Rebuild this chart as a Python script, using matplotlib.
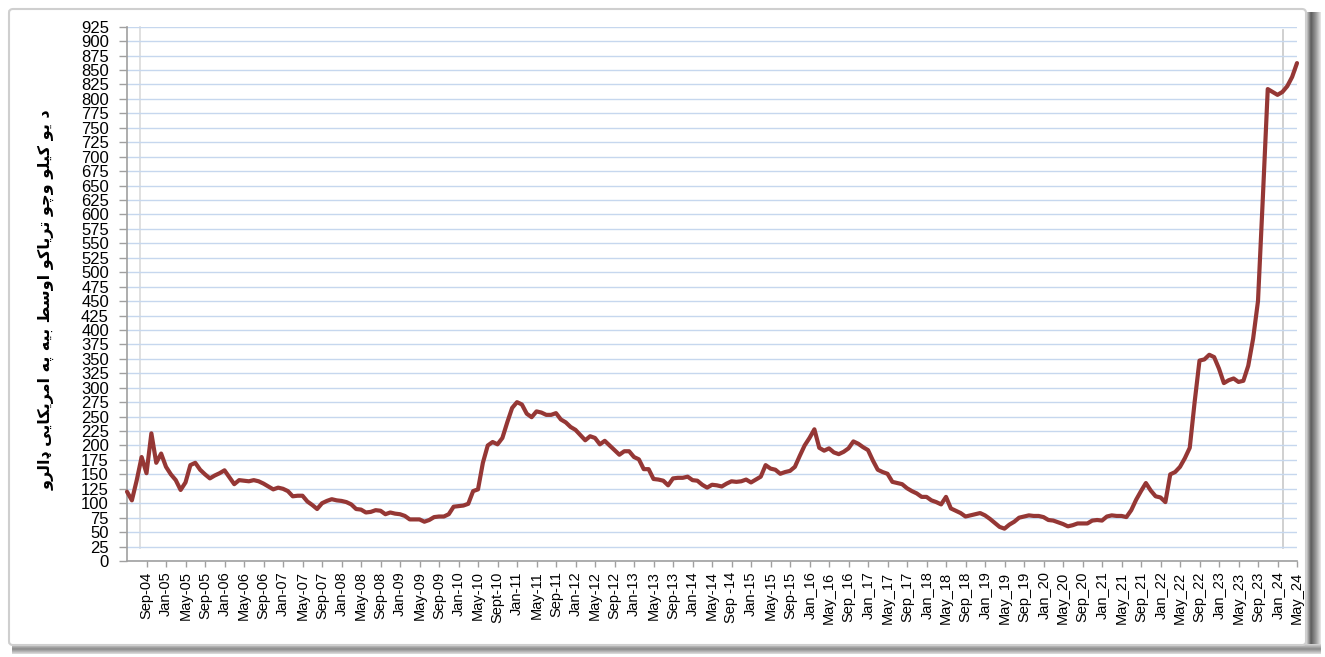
import numpy as np
import matplotlib.pyplot as plt
import matplotlib.colors as mcolors
from matplotlib.patches import FancyBboxPatch

# monthly price, May-2004 .. May-2024 (USD per kg of dry opium)
values = [
    120, 105, 140, 180, 152, 221, 170, 186, 163, 150, 140, 123,
    136, 166, 170, 158, 150, 143, 148, 152, 157, 145, 133, 140,
    139, 138, 140, 138, 134, 129, 124, 127, 125, 121, 112, 113,
    113, 103, 97, 90, 100, 104, 107, 105, 104, 102, 98, 90,
    89, 84, 85, 88, 87, 81, 84, 82, 81, 78, 72, 72,
    72, 68, 71, 76, 77, 77, 81, 94, 95, 96, 99, 121,
    124, 170, 200, 206, 202, 213, 240, 265, 275, 271, 255, 249,
    259, 257, 253, 253, 256, 245, 240, 232, 227, 218, 209, 216,
    213, 202, 208, 200, 192, 184, 190, 190, 180, 176, 159, 159,
    142, 141, 139, 131, 143, 144, 144, 146, 140, 139, 132, 127,
    132, 131, 129, 134, 138, 137, 138, 141, 136, 141, 146, 166,
    160, 158, 151, 154, 156, 163, 182, 200, 213, 228, 196, 191,
    195, 188, 185, 189, 195, 207, 203, 197, 192, 174, 158, 154,
    151, 137, 135, 133, 126, 121, 117, 111, 111, 105, 102, 98,
    111, 91, 87, 83, 77, 79, 81, 83, 79, 73, 66, 59,
    56, 63, 68, 75, 77, 79, 78, 78, 76, 71, 70, 67,
    64, 60, 62, 65, 65, 65, 70, 71, 70, 77, 79, 78,
    78, 76, 88, 106, 121, 135, 122, 112, 110, 102, 150, 154,
    163, 178, 196, 275, 347, 349, 357, 353, 333, 308, 313, 316,
    310, 312, 338, 385, 450, 630, 817, 812, 807, 812, 822, 838,
    862,
]

tick_labels = [
    "Sep-04", "Jan-05", "May-05", "Sep-05", "Jan-06", "May-06", "Sep-06",
    "Jan-07", "May-07", "Sep-07", "Jan-08", "May-08", "Sep-08", "Jan-09",
    "May-09", "Sep-09", "Jan-10", "May-10", "Sept-10", "Jan-11", "May-11",
    "Sep-11", "Jan-12", "May-12", "Sep-12", "Jan-13", "May-13", "Sep-13",
    "Jan-14", "May-14", "Sep -14", "Jan-15", "May-15", "Sep-15", "Jan_16",
    "May_16", "Sep_16", "Jan_17", "May_17", "Sep_17", "Jan_18", "May_18",
    "Sep_18", "Jan_19", "May_19", "Sep_19", "Jan_20", "May_20", "Sep_20",
    "Jan_21", "May_21", "Sep_21", "Jan_22", "May_22", "Sep_22", "Jan_23",
    "May_23", "Sep_23", "Jan_24", "May_24",
]

y_title = "د یو کیلو وچو تریاکو اوسط بیه په امریکایی ډالرو"

# presentation forms: isolated, final, initial, medial
FORMS = {
    '\u0627': ('\uFE8D', '\uFE8E', None, None),
    '\u0628': ('\uFE8F', '\uFE90', '\uFE91', '\uFE92'),
    '\u062A': ('\uFE95', '\uFE96', '\uFE97', '\uFE98'),
    '\u062F': ('\uFEA9', '\uFEAA', None, None),
    '\u0631': ('\uFEAD', '\uFEAE', None, None),
    '\u0633': ('\uFEB1', '\uFEB2', '\uFEB3', '\uFEB4'),
    '\u0637': ('\uFEC1', '\uFEC2', '\uFEC3', '\uFEC4'),
    '\u0644': ('\uFEDD', '\uFEDE', '\uFEDF', '\uFEE0'),
    '\u0645': ('\uFEE1', '\uFEE2', '\uFEE3', '\uFEE4'),
    '\u0647': ('\uFEE9', '\uFEEA', '\uFEEB', '\uFEEC'),
    '\u0648': ('\uFEED', '\uFEEE', None, None),
    '\u067E': ('\uFB56', '\uFB57', '\uFB58', '\uFB59'),
    '\u0686': ('\uFB7A', '\uFB7B', '\uFB7C', '\uFB7D'),
    '\u06A9': ('\uFB8E', '\uFB8F', '\uFB90', '\uFB91'),
    '\u06CC': ('\uFBFC', '\uFBFD', '\uFBFE', '\uFBFF'),
    '\u0689': ('\u0689', '\u0689', None, None),
}


def shape(text):
    # crude arabic-script shaping + reversal for LTR rendering
    out = []
    for word in text.split(' '):
        res = ''
        for k, c in enumerate(word):
            if c not in FORMS:
                res += c
                continue
            p = word[k - 1] if k > 0 else None
            n = word[k + 1] if k + 1 < len(word) else None
            con_prev = p in FORMS and FORMS[p][2] is not None
            con_next = n in FORMS and FORMS[c][2] is not None
            if con_prev and con_next:
                res += FORMS[c][3]
            elif con_prev:
                res += FORMS[c][1]
            elif con_next:
                res += FORMS[c][2]
            else:
                res += FORMS[c][0]
        out.append(res)
    return ' '.join(out)[::-1]


W, H = 1325, 657
fig = plt.figure(figsize=(W / 100, H / 100), dpi=100)

# background: chart frame and 3d-ish bevels, in pixel coords
bg = fig.add_axes([0, 0, 1, 1])
bg.axis('off')


def grad(x0, x1, y0, y1, stops, horizontal=True):
    n = 64
    t = np.linspace(0, 1, n)
    pos = np.linspace(0, 1, len(stops))
    rgb = np.array([mcolors.to_rgb(s) for s in stops])
    cols = np.stack([np.interp(t, pos, rgb[:, j]) for j in range(3)], axis=1)
    img = cols[None, :, :] if horizontal else cols[:, None, :]
    bg.imshow(img, extent=(x0, x1, y1, y0), aspect='auto', interpolation='bilinear', zorder=1)


grad(1306, 1321, 12, 652, ['#e0e0e0', '#5c5c5c', '#9a9a9a', '#e8e8e8'])
grad(12, 1321, 644, 654, ['#d8d8d8', '#8a8a8a', '#e0e0e0'], horizontal=False)
bg.add_patch(FancyBboxPatch((9, 9), 1297, 636, boxstyle='round,pad=0,rounding_size=4',
                            fc='white', ec='#cfcfcf', lw=1.5, zorder=2))
grad(8, 13, 10, 644, ['#f4f4f4', '#c4c4c4', '#e6e6e6'])

# walls / floor of the plot area
grad(127, 133, 27, 561, ['#9a9a9a', '#f2f2f2'])
bg.plot([140, 140], [27, 548], color='#dadada', lw=1.2, zorder=3)
grad(127, 1297, 548, 562, ['#f6f6f6', '#d4d4d4', '#a2a2a2'], horizontal=False)
bg.plot([1283, 1283], [30, 548], color='#c8c8c8', lw=1.2, zorder=3)
grad(1287, 1297, 28, 561, ['#f0f0f0', '#a8a8a8', '#484848'])
bg.set_xlim(0, W)
bg.set_ylim(H, 0)

# main plot
ax = fig.add_axes([127 / W, 1 - 561 / H, 1170 / W, (561 - 26.7) / H])
ax.set_facecolor('none')
months = np.arange(len(values))
ax.plot(months, values, color='#953735', lw=3.0, solid_joinstyle='round',
        solid_capstyle='round', clip_on=False, zorder=3)

ax.set_xlim(0, len(values) - 1)
ax.set_ylim(0, 925)
ax.set_yticks(np.arange(0, 926, 25))
ax.yaxis.grid(True, color='#c6d7ee', lw=1)
ax.set_axisbelow(True)
ax.set_xticks(months[4::4])
ax.set_xticklabels(tick_labels, rotation=90,
                   family=['Liberation Sans Narrow', 'Liberation Sans', 'DejaVu Sans'],
                   fontsize=10.5)
for lab in ax.get_yticklabels():
    lab.set_family(['Liberation Sans', 'DejaVu Sans'])
    lab.set_fontsize(12)

ax.tick_params(axis='y', direction='out', length=6, width=1, color='#a0a0a0', pad=7)
ax.tick_params(axis='x', direction='out', length=4, width=1, color='#a0a0a0', pad=3.5)
for s in ['top', 'right']:
    ax.spines[s].set_visible(False)
ax.spines['left'].set_color('#a0a0a0')
ax.spines['bottom'].set_color('#a0a0a0')
ax.spines['left'].set_linewidth(1.2)
ax.spines['bottom'].set_linewidth(1.2)

fig.text(46 / W, 1 - 300 / H, shape(y_title), rotation=90, fontsize=11.5,
         fontweight='bold', family='DejaVu Sans', ha='center', va='center')

fig.savefig('out.png', dpi=100)
